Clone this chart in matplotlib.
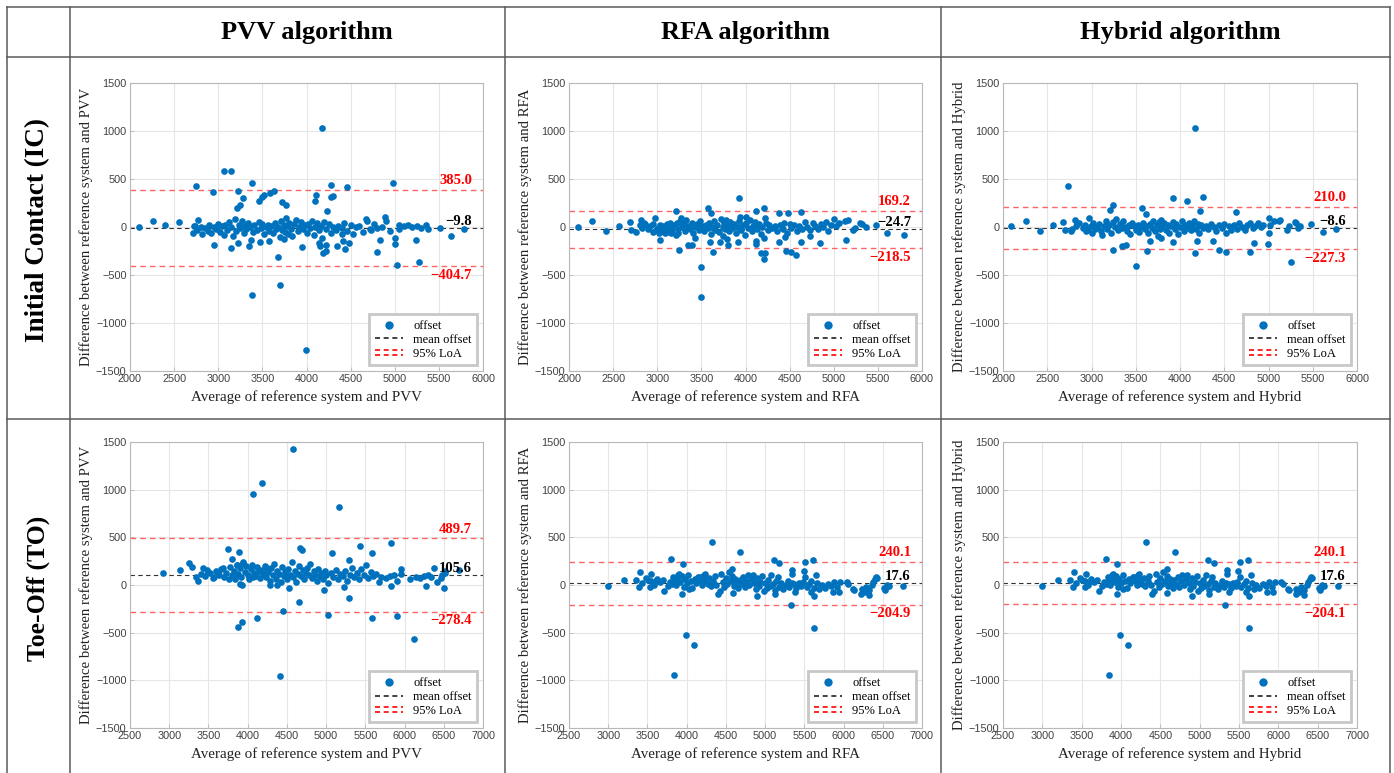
import numpy as np
import matplotlib.pyplot as plt
from matplotlib.lines import Line2D
from matplotlib.legend_handler import HandlerBase

###########################################################
# data: (average, difference) pairs
###########################################################
ic_pvv_pts = [
    (2100, 0), (2264, 66), (2396, 24), (2555, 49), (2717, -63), (2728, 7), (2743, 425), (2770, 77),
    (2819, -70), (2936, 369), (2955, -191), (3060, 588), (3143, 581), (3140, -219), (3219, -167),
    (3226, 379), (3211, 198), (3245, 226), (3279, 299), (3351, -195), (3370, -132), (3381, 459),
    (3381, -706), (3464, 268), (3491, 313), (3517, 338), (3468, -160), (3577, -150), (3592, 355),
    (3630, 379), (3679, -317), (3698, -606), (3717, 258), (3766, 226), (3947, -212), (3996, -1281),
    (4094, 268), (4102, 338), (4181, 1027), (4143, -167), (4151, -202), (4189, -271), (4219, -254),
    (4234, 164), (4226, -191), (4272, 442), (4283, 310), (4302, 320), (4347, -202), (4404, -73),
    (4415, -150), (4434, -230), (4460, 414), (4483, -167), (4679, 87), (4736, -28), (4800, -261),
    (4838, -139), (4887, 104), (4981, 459), (5000, -174), (5026, -393), (5049, 24), (5238, -132),
    (5272, -365), (5509, -10), (5642, -90), (5781, -21),
    (2740, 10), (2760, -30), (2800, 5), (2850, -10), (2880, -40), (2900, 20), (2920, -60), (2950, 0),
    (2980, -20), (3000, 30), (3020, -50), (3040, 10), (3060, -80), (3080, 20), (3100, -30), (3120, 50),
    (3150, 0), (3170, -90), (3190, 80), (3200, -40), (3230, 20), (3250, -10), (3270, 60), (3290, -60),
    (3300, 10), (3320, -20), (3340, 40), (3360, 0), (3390, -50), (3410, 20), (3440, -30), (3460, 50),
    (3480, -10), (3500, 30), (3520, -70), (3540, 0), (3560, 20), (3580, -40), (3600, 10), (3620, -60),
    (3640, 40), (3660, -20), (3680, 0), (3700, -100), (3710, 60), (3720, -30), (3740, 20), (3750, -120),
    (3760, -50), (3770, 90), (3780, 10), (3790, -70), (3800, 40), (3820, -20), (3840, -90), (3860, 30),
    (3880, 70), (3900, -40), (3920, 0), (3940, 50), (3960, -20), (3980, 20), (4000, -60), (4020, 30),
    (4040, -10), (4060, 60), (4080, -80), (4100, 0), (4120, 40), (4140, -30), (4160, 10), (4180, -110),
    (4200, 50), (4220, -20), (4250, 30), (4280, -60), (4300, 0), (4330, -30), (4360, 10), (4400, -10),
    (4430, 40), (4460, -40), (4500, 20), (4530, -70), (4560, 0), (4600, 10), (4640, -50), (4680, 60),
    (4720, -20), (4760, 30), (4800, -10), (4850, 0), (4900, 60), (4950, -40), (5000, -110), (5050, -20),
    (5100, 10), (5150, 20), (5200, 0), (5250, 10), (5300, -10), (5350, 20), (5380, -20),
]

ic_rfa_pts = [
    (2098, 3), (2261, 63), (2423, -45), (2567, 14), (2687, 49), (2699, -31), (2763, -49), (2820, 73),
    (2846, 38), (2903, 3), (2952, -49), (2975, 91), (3020, -66), (3027, -136), (3058, 3), (3084, -66),
    (3141, 38), (3160, -66), (3216, 171), (3235, -66), (3243, -240), (3273, 91), (3292, 38),
    (3348, -188), (3397, -188), (3424, -118), (3500, -415), (3500, -728), (3575, 195), (3605, 143),
    (3601, -153), (3632, -258), (3707, -153), (3801, -188), (3926, 300), (3915, -153), (3941, 108),
    (4009, 108), (4115, -146), (4122, 171), (4122, -181), (4171, -268), (4205, 195), (4209, -338),
    (4216, -275), (4224, 91), (4379, 143), (4379, -153), (4444, -101), (4455, -247), (4481, 143),
    (4519, -265), (4568, -292), (4632, -153), (4632, 153), (4727, -94), (4840, -171), (5003, 87),
    (5029, 14), (5124, 63), (5143, -136), (5218, -31), (5294, 45), (5361, 3), (5482, 17), (5607, -59),
    (5796, -84),
    (2800, 20), (2830, -10), (2860, 30), (2890, -20), (2920, 10), (2950, 30), (2990, -30), (3010, -10),
    (3030, 20), (3050, -40), (3070, 10), (3090, -20), (3110, 30), (3130, -50), (3150, 0), (3170, -30),
    (3190, 20), (3210, -80), (3220, 40), (3240, -20), (3260, 60), (3280, 0), (3300, 30), (3310, -40),
    (3330, 70), (3350, 10), (3370, -20), (3390, 40), (3410, -60), (3430, 0), (3450, 30), (3470, -30),
    (3490, 60), (3510, 10), (3530, -40), (3550, 20), (3570, -10), (3590, 40), (3610, -70), (3620, 0),
    (3640, 60), (3660, -30), (3680, 20), (3700, -50), (3720, 80), (3740, 0), (3750, -90), (3760, 40),
    (3770, -20), (3780, 70), (3790, -120), (3800, 10), (3810, -40), (3830, 50), (3850, -10), (3870, 30),
    (3890, -60), (3910, 0), (3930, 60), (3950, -30), (3970, 20), (3990, -80), (4010, 40), (4030, -10),
    (4050, 70), (4070, -40), (4090, 10), (4110, 50), (4130, -20), (4150, 30), (4170, -70), (4190, 0),
    (4210, -110), (4230, 40), (4250, -30), (4270, 20), (4300, -10), (4330, 10), (4360, -40), (4390, 20),
    (4420, -20), (4440, 40), (4470, -60), (4500, 30), (4520, -10), (4550, 20), (4580, -40), (4610, 10),
    (4640, -20), (4670, 50), (4700, 0), (4730, -30), (4760, 40), (4790, 10), (4820, -20), (4850, 30),
    (4880, 0), (4910, 50), (4940, -40), (4970, 20), (5060, 40), (5160, 70), (5240, -10), (5320, 30),
]

ic_hyb_pts = [
    (2094, 7), (2257, 66), (2423, -42), (2566, 17), (2683, 52), (2698, -28), (2736, 425), (2774, -45),
    (2811, 77), (2838, 42), (2974, 94), (2943, -45), (3000, -63), (3113, -80), (3208, 174), (3238, 233),
    (3238, -237), (3340, -195), (3389, -192), (3502, -411), (3566, 199), (3611, 139), (3630, -254),
    (3660, -150), (3925, -160), (3925, 303), (4075, 268), (4170, -272), (4170, 1028), (4189, -150),
    (4226, 164), (4264, 314), (4377, -150), (4445, -244), (4521, -265), (4630, 157), (4792, -265),
    (4838, -167), (4989, -174), (5011, -63), (5000, 91), (5019, 24), (5113, 66), (5208, -35),
    (5257, -366), (5302, 49), (5358, 7), (5483, 28), (5615, -56), (5766, -21),
    (2780, -20), (2820, 10), (2860, 40), (2900, -10), (2930, 20), (2960, -30), (2990, 10), (3020, 40),
    (3040, -20), (3060, 0), (3090, 30), (3110, -40), (3140, 10), (3160, 60), (3180, -20), (3200, 20),
    (3220, -60), (3240, 50), (3260, 0), (3280, 80), (3300, -30), (3320, 30), (3340, -10), (3360, 60),
    (3380, 0), (3400, -40), (3420, 20), (3440, -70), (3460, 40), (3480, 10), (3500, -30), (3520, 20),
    (3540, -50), (3560, 0), (3580, 40), (3600, -20), (3620, 10), (3640, -60), (3660, 30), (3680, -10),
    (3700, 60), (3720, -40), (3740, 20), (3750, -90), (3760, 50), (3770, -20), (3780, 70), (3790, -110),
    (3800, 0), (3820, 40), (3840, -30), (3860, 20), (3880, -60), (3900, 10), (3920, 50), (3940, -20),
    (3960, 30), (3980, -70), (4000, 0), (4020, 60), (4040, -40), (4060, 20), (4080, -10), (4100, 40),
    (4120, -30), (4140, 10), (4160, 60), (4180, -20), (4200, 30), (4220, -60), (4240, 20), (4260, -10),
    (4290, 10), (4320, -20), (4350, 30), (4380, 0), (4410, -40), (4440, 20), (4470, -10), (4500, 30),
    (4520, -60), (4550, 10), (4580, -30), (4610, 20), (4640, -20), (4670, 40), (4700, 0), (4730, -30),
    (4760, 20), (4790, 40), (4820, -10), (4850, 10), (4880, 40), (4910, 0), (4940, 20), (5060, 60),
    (5130, 70), (5230, 10), (5310, 40), (5330, -10),
]

to_pvv_pts = [
    (2916, 122), (3137, 157), (3256, 227), (3286, 192), (3340, 87), (3362, 45), (3434, 174), (3497, 140),
    (3570, 87), (3625, 122), (3689, 174), (3744, 373), (3800, 269), (3838, 105), (3859, 209),
    (3872, -443), (3889, 349), (3901, 10), (3923, -384), (3931, 0), (3944, 227), (4071, 952), (4071, 87),
    (4122, -349), (4177, 1074), (4241, 174), (4284, 0), (4368, 0), (4445, -269), (4411, -952),
    (4526, -35), (4580, 1430), (4657, -174), (4665, 391), (4695, 366), (4971, -52), (5018, -314),
    (5078, 331), (5159, 820), (5231, -17), (5295, -140), (5295, 262), (5431, 408), (5580, 331),
    (5580, -342), (5832, 436), (5823, -7), (5904, -324), (5959, 171), (6073, 63), (6116, -565),
    (6277, -7), (6375, 181), (6413, 28), (6502, -28), (6511, 129),
    (3400, 120), (3450, 90), (3480, 160), (3520, 130), (3560, 70), (3600, 150), (3640, 100), (3660, 170),
    (3700, 80), (3720, 130), (3760, 60), (3780, 190), (3800, 100), (3820, 150), (3840, 60), (3860, 210),
    (3880, 120), (3900, 180), (3920, 80), (3940, 240), (3960, 140), (3980, 200), (4000, 110), (4020, 60),
    (4040, 170), (4060, 210), (4080, 130), (4100, 90), (4120, 190), (4140, 150), (4160, 70), (4180, 160),
    (4200, 120), (4220, 200), (4240, 80), (4260, 140), (4280, 40), (4300, 180), (4320, 100), (4340, 220),
    (4360, 60), (4380, 150), (4400, 120), (4420, 30), (4440, 190), (4460, 90), (4480, 140), (4500, 60),
    (4520, 170), (4540, 110), (4560, 240), (4580, 80), (4600, 150), (4620, 30), (4640, 120), (4660, 200),
    (4680, 90), (4700, 160), (4720, 60), (4740, 130), (4760, 180), (4780, 100), (4800, 220), (4820, 70),
    (4840, 150), (4860, 110), (4880, 40), (4900, 170), (4920, 90), (4940, 130), (4960, 60), (4980, 150),
    (5000, 100), (5030, 20), (5060, 130), (5090, 80), (5120, 160), (5150, 60), (5180, 120), (5210, 90),
    (5240, 150), (5270, 40), (5300, 110), (5330, 180), (5360, 80), (5390, 130), (5420, 60), (5450, 170),
    (5480, 100), (5510, 210), (5540, 70), (5570, 140), (5600, 90), (5640, 120), (5670, 30), (5700, 80),
    (5760, 70), (5820, 90), (5860, 110), (5900, 40), (5960, 120), (6150, 80), (6200, 70), (6250, 90),
    (6300, 110), (6340, 80), (6460, 70), (6480, 110), (6520, 150), (6700, 160),
]

to_rfa_pts = [
    (2997, -10), (3197, 56), (3358, 56), (3392, -21), (3401, 136), (3507, 49), (3537, -21), (3550, 112),
    (3614, 38), (3716, -63), (3805, 269), (3809, 14), (3847, 49), (3843, -948), (3890, 101), (3945, -91),
    (3954, 217), (3988, -521), (4031, -38), (4090, -626), (4167, 84), (4231, 119), (4324, 451),
    (4400, -91), (4579, 171), (4591, -84), (4685, 346), (4897, -119), (5110, 259), (5178, 231),
    (5123, -98), (5326, -213), (5343, 154), (5343, 112), (5377, -73), (5492, 143), (5513, 241),
    (5611, 259), (5590, -73), (5624, -119), (5624, -448), (5654, 101), (5862, -73), (5938, -73),
    (6057, 14), (6121, -38), (6227, -91), (6325, -108), (6418, 84), (6524, -56), (6758, -10),
    (3430, 20), (3480, 70), (3540, 40), (3580, 0), (3620, 60), (3660, 30), (3700, 50), (3760, -10),
    (3790, 30), (3830, 80), (3860, 0), (3880, 60), (3900, 120), (3920, 30), (3940, 90), (3960, -20),
    (3980, 60), (4000, 20), (4020, 100), (4050, 40), (4070, -30), (4100, 60), (4120, 20), (4150, 80),
    (4180, 40), (4200, 0), (4220, 100), (4240, 50), (4270, 10), (4290, 70), (4310, -10), (4340, 40),
    (4360, 90), (4380, 0), (4420, -60), (4440, 120), (4460, 30), (4480, -20), (4500, 70), (4520, 10),
    (4540, 140), (4560, 40), (4580, 90), (4600, -10), (4620, 60), (4640, 20), (4660, -30), (4680, 50),
    (4700, 10), (4720, 80), (4740, -20), (4760, 40), (4780, 100), (4800, 0), (4820, 60), (4840, 110),
    (4860, 20), (4880, -40), (4900, 70), (4920, -10), (4940, 30), (4960, 90), (4980, -60), (5000, 20),
    (5020, -30), (5040, 50), (5060, -10), (5080, 100), (5100, 10), (5120, -50), (5140, 40), (5160, 80),
    (5180, -20), (5200, 20), (5230, -40), (5260, 0), (5290, 40), (5310, -20), (5340, 20), (5370, 10),
    (5400, -30), (5430, 20), (5460, -10), (5480, 30), (5510, 80), (5530, -20), (5560, 10), (5590, 40),
    (5620, -30), (5660, 20), (5690, -40), (5720, 0), (5760, -30), (5800, 10), (5840, -10), (5880, 30),
    (5920, -20), (5960, 30), (6040, 30), (6130, -50), (6230, -40), (6260, -70), (6290, -20), (6330, -50),
    (6360, 0), (6380, 30), (6400, 60), (6430, 70), (6520, -30), (6540, -20), (6560, 0), (6580, -10),
]
# the hybrid toe-off panel shows the same points as the RFA one
to_hyb_pts = to_rfa_pts

algos = ["PVV", "RFA", "Hybrid"]
headers = ["PVV algorithm", "RFA algorithm", "Hybrid algorithm"]
row_names = ["Initial Contact (IC)", "Toe-Off (TO)"]

# mean offset, upper LoA, lower LoA
ic_stats = [(-9.8, 385.0, -404.7), (-24.7, 169.2, -218.5), (-8.6, 210.0, -227.3)]
to_stats = [(105.6, 489.7, -278.4), (17.6, 240.1, -204.9), (17.6, 240.1, -204.1)]

ic_xlim = (2000, 6000)
to_xlim = (2500, 7000)

###########################################################
# style
###########################################################
W, H = 1394, 773
SERIF = "Liberation Serif"
SANS = "Liberation Sans"
BLUE = "#0072BD"
LOA_RED = "#ff6464"
GRID = "#e6e6e6"
TABLE = "#5a5a5a"


class TwoLines(HandlerBase):
    """legend entry with two stacked dashed lines (upper and lower LoA)"""
    def create_artists(self, legend, orig_handle, xdescent, ydescent, width, height, fontsize, trans):
        arts = []
        for f in (0.2, 0.75):
            y = -ydescent + height * f
            ln = Line2D([-xdescent, -xdescent + width], [y, y], color=orig_handle.get_color(),
                        lw=orig_handle.get_linewidth(), linestyle=(0, (3, 2.2)))
            ln.set_transform(trans)
            arts.append(ln)
        return arts


def fx(px):
    return px / W


def fy(py):
    return 1 - py / H


fig = plt.figure(figsize=(W / 100, H / 100), dpi=100)

# table lines
def hline(py, x0=7, x1=1390):
    fig.add_artist(Line2D([fx(x0), fx(x1)], [fy(py), fy(py)], color=TABLE, lw=1.1))


def vline(px, y0=7, y1=773):
    fig.add_artist(Line2D([fx(px), fx(px)], [fy(y0), fy(y1)], color=TABLE, lw=1.1))


hline(7)
hline(57)
hline(419)
for px in (7, 70, 505, 941, 1390):
    vline(px)

# axes boxes in pixels: left, right, top, bottom
col_lr = [(130, 483), (569, 922), (1003, 1357)]
row_tb = [(83, 371), (442, 728)]

for (l, rr), h in zip(col_lr, headers):
    fig.text(fx((l + rr) / 2), fy(33), h, ha="center", va="center", fontsize=19, fontweight="bold",
             family=SERIF)
for cy, r, fs in zip([230, 588], row_names, [19.5, 18.5]):
    fig.text(fx(38), fy(cy), r, ha="center", va="center", rotation=90, fontsize=fs,
             fontweight="bold", family=SERIF)

panels = [
    [ic_pvv_pts, ic_rfa_pts, ic_hyb_pts],
    [to_pvv_pts, to_rfa_pts, to_hyb_pts],
]
stats = [ic_stats, to_stats]
xlims = [ic_xlim, to_xlim]

for r in range(2):
    t, b = row_tb[r]
    for c in range(3):
        l, rr = col_lr[c]
        ax = fig.add_axes([fx(l), fy(b), (rr - l) / W, (b - t) / H])
        pts = panels[r][c]
        xs = [p[0] for p in pts]
        ys = [p[1] for p in pts]
        mean, up, lo = stats[r][c]

        ax.plot(xs, ys, "o", color=BLUE, ms=4.8, mec=BLUE, mew=0, zorder=3, label="offset")
        ax.axhline(mean, color="#333333", lw=0.8, linestyle=(0, (4, 3)), zorder=2, label="mean offset")
        ax.axhline(up, color=LOA_RED, lw=1.0, linestyle=(0, (4, 3)), zorder=2, label="95% LoA")
        ax.axhline(lo, color=LOA_RED, lw=1.0, linestyle=(0, (4, 3)), zorder=2)

        tr = ax.get_yaxis_transform()
        ax.annotate(f"{up:.1f}", xy=(1, up), xycoords=tr, xytext=(-8, 2), textcoords="offset points",
                    ha="right", va="bottom", color="red", fontsize=10.5, fontweight="bold", family=SERIF)
        ax.annotate(f"{lo:.1f}".replace("-", "\u2212"), xy=(1, lo), xycoords=tr, xytext=(-8, -2),
                    textcoords="offset points", ha="right", va="top", color="red", fontsize=10.5,
                    fontweight="bold", family=SERIF)
        ax.annotate(f"{mean:.1f}".replace("-", "\u2212"), xy=(1, mean), xycoords=tr, xytext=(-8, 0),
                    textcoords="offset points", ha="right", va="bottom", color="black", fontsize=10.5,
                    fontweight="bold", family=SERIF, zorder=4)

        ax.set_xlim(*xlims[r])
        ax.set_ylim(-1500, 1500)
        ax.set_xticks(np.arange(xlims[r][0], xlims[r][1] + 1, 500))
        ax.set_yticks(np.arange(-1500, 1501, 500))
        ax.set_yticklabels([str(v).replace("-", "\u2212") for v in range(-1500, 1501, 500)])
        ax.grid(True, color=GRID, lw=0.8)
        ax.set_axisbelow(True)
        for sp in ax.spines.values():
            sp.set_color("#b8b8b8")
            sp.set_linewidth(0.8)
        ax.tick_params(direction="in", length=3, width=0.6, color="#b8b8b8", labelsize=7.8,
                       labelcolor="#404040", pad=2.5)
        for lab in ax.get_xticklabels() + ax.get_yticklabels():
            lab.set_family(SANS)

        ax.set_xlabel(f"Average of reference system and {algos[c]}", family=SERIF, fontsize=10.8,
                      color="#222222", labelpad=4)
        ax.set_ylabel(f"Difference between reference system and {algos[c]}", family=SERIF,
                      fontsize=10.6, color="#222222", labelpad=2)

        h_off = Line2D([], [], ls="none", marker="o", color=BLUE, ms=6, mew=0)
        h_mean = Line2D([], [], color="#222222", lw=1.2, linestyle=(0, (3, 2.2)))
        h_loa = Line2D([], [], color="red", lw=1.2)
        leg = ax.legend([h_off, h_mean, h_loa], ["offset", "mean offset", "95% LoA"],
                        loc="lower right", handler_map={h_loa: TwoLines()},
                        prop={"family": SERIF, "size": 9}, fancybox=False, framealpha=1,
                        edgecolor="#c8c8c8", handlelength=2.3, handletextpad=0.8,
                        borderpad=0.45, labelspacing=0.15, borderaxespad=0.45)
        leg.get_frame().set_linewidth(2)

fig.savefig("out.png", dpi=100)
